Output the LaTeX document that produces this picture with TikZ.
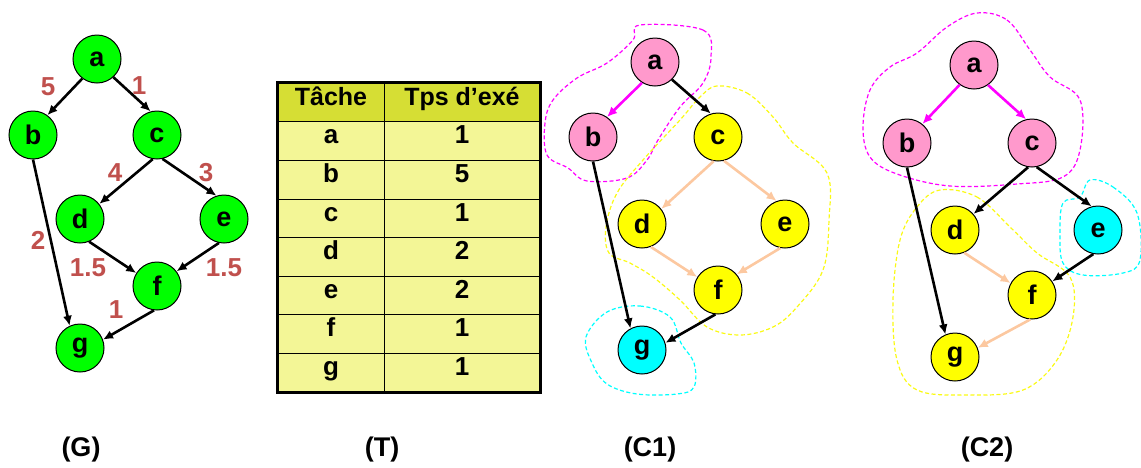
\documentclass[tikz,border=0pt]{standalone}
\usepackage{fontspec}
\setmainfont{Liberation Sans}
\usetikzlibrary{arrows.meta, positioning}
\definecolor{nodegreen}{RGB}{0, 255, 0}
\definecolor{nodepink}{RGB}{255, 153, 204}
\definecolor{nodeyellow}{RGB}{255, 255, 0}
\definecolor{nodecyan}{RGB}{0, 255, 255}
\definecolor{pinkline}{RGB}{255, 0, 255}
\definecolor{weightcolor}{RGB}{192, 80, 77}
\definecolor{lightarc}{RGB}{252, 200, 160}
\definecolor{headfill}{RGB}{214, 222, 52}
\definecolor{cellfill}{RGB}{243, 246, 150}
\definecolor{blobyellow}{RGB}{250, 250, 20}

\begin{document}
\begin{tikzpicture}[x=1pt, y=-1pt,
    vertex/.style={circle, draw=black, line width=1pt, minimum size=48pt, inner sep=0pt, font=\fontsize{27}{27}\selectfont\bfseries},
    arc/.style={-{Latex[length=10pt,width=9pt]}, line width=2.6pt, black},
    pinkarc/.style={arc, draw=pinkline},
    lightarc/.style={arc, draw=lightarc},
    weight/.style={text=weightcolor, font=\fontsize{26}{26}\selectfont\bfseries},
    cell/.style={draw=black, line width=1pt, minimum height=38.6pt, inner sep=0pt, text height=0.72em, text depth=0.2em, font=\fontsize{26}{26}\selectfont\bfseries, fill=cellfill},
    blob/.style={line width=1.2pt, dash pattern=on 4pt off 2.5pt},
    caption/.style={font=\fontsize{27}{27}\selectfont\bfseries}
]
\useasboundingbox (0,0) rectangle (1141,467);

% Graph G
\node[vertex, fill=nodegreen] (ga) at (97,59) {a};
\node[vertex, fill=nodegreen] (gb) at (33,135) {b};
\node[vertex, fill=nodegreen] (gc) at (157,135) {c};
\node[vertex, fill=nodegreen] (gd) at (80,219) {d};
\node[vertex, fill=nodegreen] (ge) at (224,219) {e};
\node[vertex, fill=nodegreen] (gf) at (157,286) {f};
\node[vertex, fill=nodegreen] (gg) at (80,348) {g};

\draw[arc] (ga.-127) -- (gb.54);
\draw[arc] (ga.-48) -- (gc.105);
\draw[arc] (gb.-90) -- (gg.115);
\draw[arc] (gc.-100) -- (gd.38);
\draw[arc] (gc.-77) -- (ge.108);
\draw[arc] (gd.-68) -- (gf.148);
\draw[arc] (ge.-102) -- (gf.37);
\draw[arc] (gf.-97) -- (gg.20);

\node[weight] (wab) at (48,87) {5};
\node[weight] (wac) at (139,86) {1};
\node[weight] (wcd) at (115,173) {4};
\node[weight] (wce) at (206,173) {3};
\node[weight] (wbg) at (38,240) {2};
\node[weight] (wdf) at (88,268) {1.5};
\node[weight] (wef) at (224,268) {1.5};
\node[weight] (wfg) at (116,310) {1};

% Table T
\node[cell, fill=headfill, minimum width=106pt, font=\fontsize{25}{25}\selectfont\bfseries] (th1) at (331,102.5) {Tâche};
\node[cell, fill=headfill, minimum width=156pt, font=\fontsize{25}{25}\selectfont\bfseries] (th2) at (462,102.5) {Tps d’exé};
\foreach \t/\d [count=\i] in {a/1, b/5, c/1, d/2, e/2, f/1, g/1} {
  \node[cell, minimum width=106pt] (tl\i) at (331,{122+38.57*(\i-0.5)}) {\t};
  \node[cell, minimum width=156pt] (tr\i) at (462,{122+38.57*(\i-0.5)}) {\d};
}
\draw[line width=3pt] (th1.north west) rectangle (tr7.south east);

% Clustering C1
\draw[blob, pinkline] plot[smooth cycle, tension=0.6] coordinates {(640,25) (703,30) (711,57) (703,83) (680,107) (658,140) (647,160) (627,178) (587,181) (568,168) (547,155) (545,123) (553,100) (577,78) (607,63) (633,40)};
\draw[blob, blobyellow] plot[smooth cycle, tension=0.6] coordinates {(717,86) (747,93) (773,117) (793,143) (827,173) (829,220) (823,270) (797,307) (773,327) (740,335) (707,327) (680,300) (653,277) (630,263) (609,253) (606,227) (617,193) (643,160) (680,120) (700,97)};
\draw[blob, nodecyan] plot[smooth cycle, tension=0.6] coordinates {(607,312) (640,306) (670,317) (681,343) (694,363) (694,387) (677,394) (637,394) (607,384) (592,363) (586,337)};

\node[vertex, fill=nodepink] (c1a) at (655,62) {a};
\node[vertex, fill=nodepink] (c1b) at (593,137) {b};
\node[vertex, fill=nodeyellow] (c1c) at (718,137) {c};
\node[vertex, fill=nodeyellow] (c1d) at (642,224) {d};
\node[vertex, fill=nodeyellow] (c1e) at (785,224) {e};
\node[vertex, fill=nodeyellow] (c1f) at (718,290) {f};
\node[vertex, fill=nodecyan] (c1g) at (642,350) {g};

\draw[pinkarc] (c1a.-122) -- (c1b.55);
\draw[arc] (c1a.-46) -- (c1c.107);
\draw[arc] (c1b.-90) -- (c1g.118);
\draw[lightarc] (c1c.-100) -- (c1d.38);
\draw[lightarc] (c1c.-76) -- (c1e.110);
\draw[lightarc] (c1d.-69) -- (c1f.148);
\draw[lightarc] (c1e.-101) -- (c1f.40);
\draw[arc] (c1f.-96) -- (c1g.17);

% Clustering C2
\draw[blob, pinkline] plot[smooth cycle, tension=0.6] coordinates {(977,13) (1007,20) (1030,50) (1050,77) (1080,100) (1080,150) (1063,177) (1017,184) (950,186) (897,174) (870,157) (863,127) (870,90) (890,67) (917,53) (947,27)};
\draw[blob, blobyellow] plot[smooth cycle, tension=0.6] coordinates {(940,190) (977,197) (1010,227) (1037,253) (1070,277) (1073,317) (1057,360) (1023,390) (967,395) (917,390) (897,360) (893,300) (900,240) (917,207)};
\draw[blob, nodecyan] plot[smooth cycle, tension=0.6] coordinates {(1090,180) (1113,187) (1137,213) (1140,260) (1123,273) (1083,275) (1063,263) (1060,233) (1063,203) (1080,197)};

\node[vertex, fill=nodepink] (c2a) at (974,65) {a};
\node[vertex, fill=nodepink] (c2b) at (907,143) {b};
\node[vertex, fill=nodepink] (c2c) at (1032,143) {c};
\node[vertex, fill=nodeyellow] (c2d) at (955,230) {d};
\node[vertex, fill=nodecyan] (c2e) at (1098,230) {e};
\node[vertex, fill=nodeyellow] (c2f) at (1032,295) {f};
\node[vertex, fill=nodeyellow] (c2g) at (955,357) {g};

\draw[pinkarc] (c2a.-126) -- (c2b.51);
\draw[pinkarc] (c2a.-55) -- (c2c.104);
\draw[arc] (c2b.-90) -- (c2g.113);
\draw[arc] (c2c.-99) -- (c2d.41);
\draw[arc] (c2c.-79) -- (c2e.105);
\draw[lightarc] (c2d.-68) -- (c2f.151);
\draw[arc] (c2e.-101) -- (c2f.34);
\draw[lightarc] (c2f.-94) -- (c2g.22);

% Captions
\node[caption] (capg) at (81,450) {(G)};
\node[caption] (capt) at (382,450) {(T)};
\node[caption] (capc1) at (650,450) {(C1)};
\node[caption] (capc2) at (987,450) {(C2)};

\end{tikzpicture}
\end{document}
